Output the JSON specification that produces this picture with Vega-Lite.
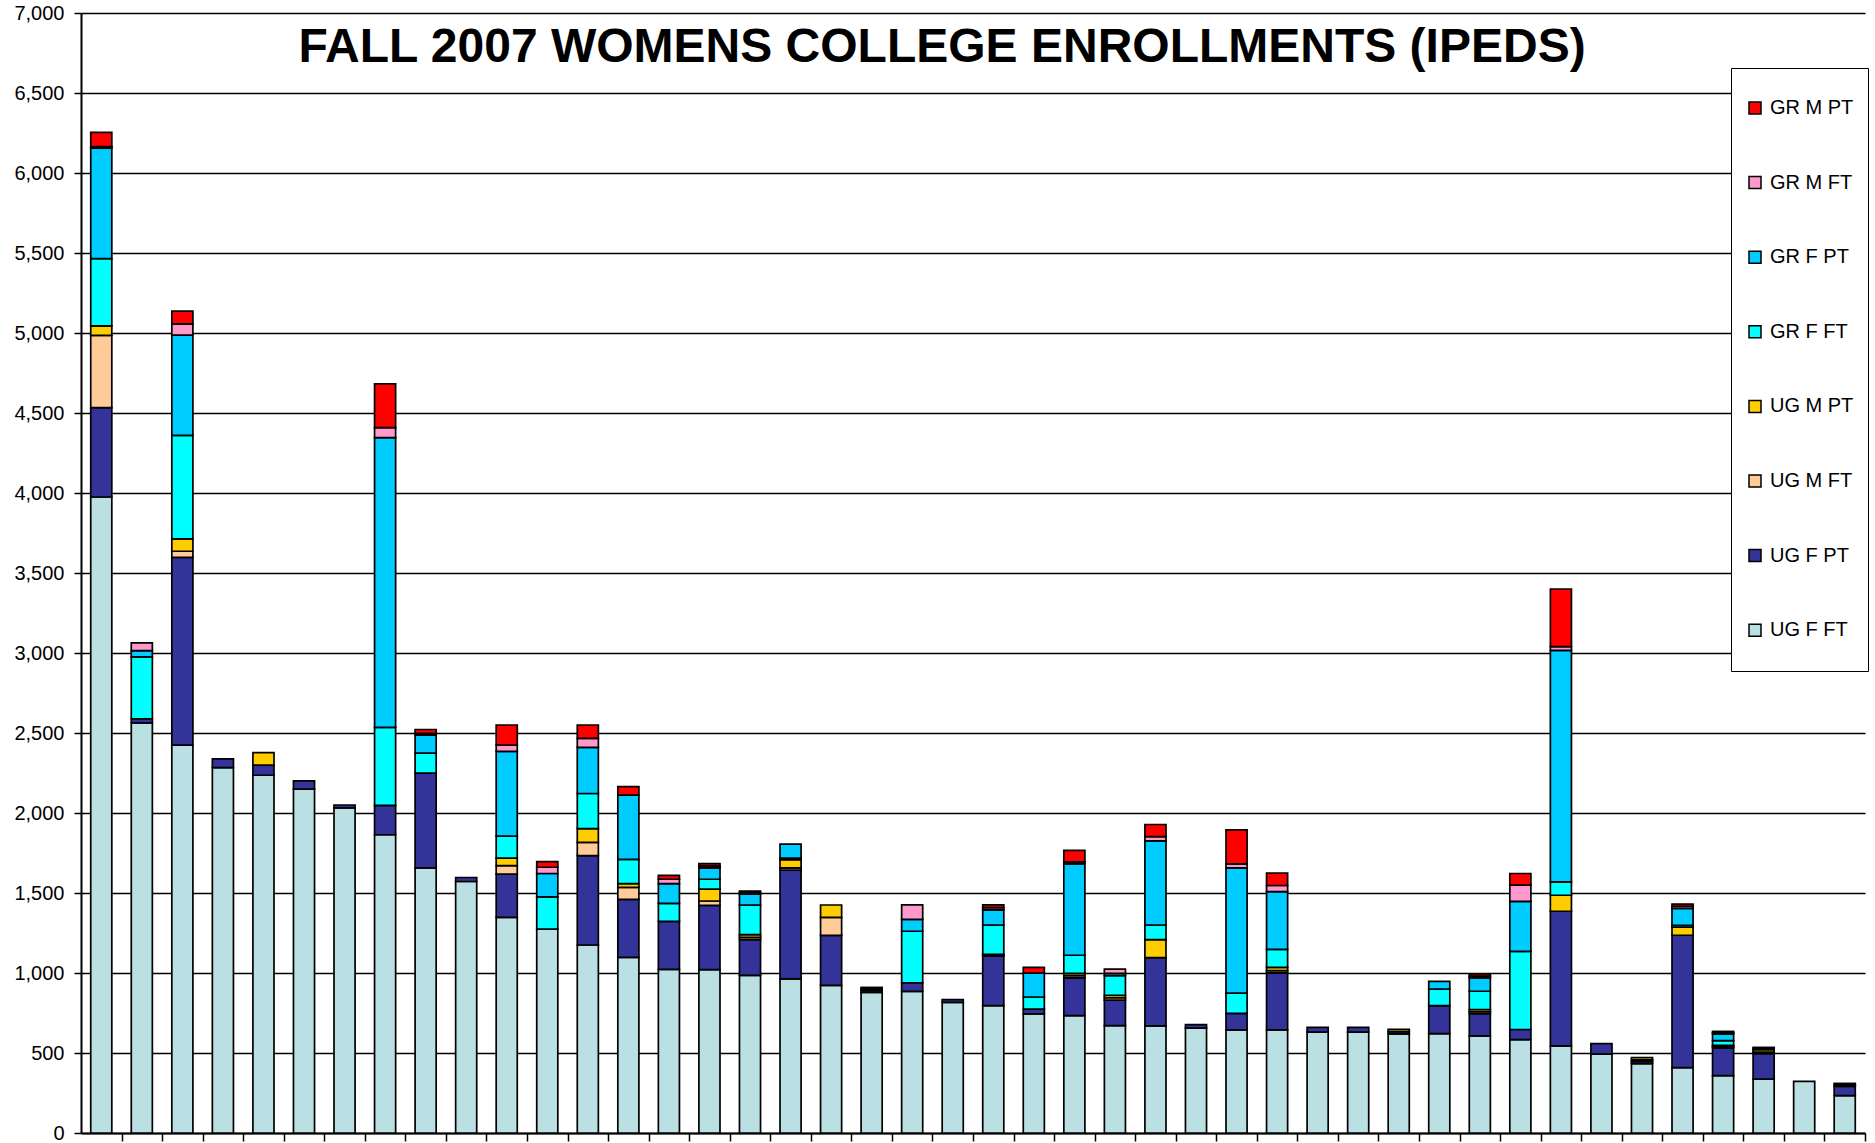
{
  "$schema": "https://vega.github.io/schema/vega-lite/v6.json",
  "width": 1784,
  "height": 1120,
  "autosize": {"type": "none"},
  "padding": {"left": 81, "top": 13, "right": 10, "bottom": 10},
  "background": "white",
  "title": {
    "text": "FALL 2007 WOMENS COLLEGE ENROLLMENTS (IPEDS)",
    "font": "Liberation Sans",
    "fontSize": 48,
    "fontWeight": "bold",
    "color": "black",
    "anchor": "middle",
    "frame": "group",
    "dx": -31,
    "offset": -107,
    "baseline": "alphabetic"
  },
  "datasets": {
    "stackOrder": [
      {"series": "UG F FT", "rank": 1},
      {"series": "UG F PT", "rank": 2},
      {"series": "UG M FT", "rank": 3},
      {"series": "UG M PT", "rank": 4},
      {"series": "GR F FT", "rank": 5},
      {"series": "GR F PT", "rank": 6},
      {"series": "GR M FT", "rank": 7},
      {"series": "GR M PT", "rank": 8}
    ]
  },
  "data": {
    "values": [
      {"college": 1, "UG F FT": 3975, "UG F PT": 559, "UG M FT": 451, "UG M PT": 60, "GR F FT": 420, "GR F PT": 690, "GR M FT": 10, "GR M PT": 89},
      {"college": 2, "UG F FT": 2563, "UG F PT": 26, "UG M FT": 0, "UG M PT": 0, "GR F FT": 387, "GR F PT": 39, "GR M FT": 48, "GR M PT": 0},
      {"college": 3, "UG F FT": 2424, "UG F PT": 1174, "UG M FT": 38, "UG M PT": 77, "GR F FT": 647, "GR F PT": 627, "GR M FT": 70, "GR M PT": 80},
      {"college": 4, "UG F FT": 2284, "UG F PT": 54, "UG M FT": 0, "UG M PT": 0, "GR F FT": 0, "GR F PT": 0, "GR M FT": 0, "GR M PT": 0},
      {"college": 5, "UG F FT": 2236, "UG F PT": 63, "UG M FT": 0, "UG M PT": 78, "GR F FT": 0, "GR F PT": 0, "GR M FT": 0, "GR M PT": 0},
      {"college": 6, "UG F FT": 2149, "UG F PT": 52, "UG M FT": 0, "UG M PT": 0, "GR F FT": 0, "GR F PT": 0, "GR M FT": 0, "GR M PT": 0},
      {"college": 7, "UG F FT": 2032, "UG F PT": 18, "UG M FT": 0, "UG M PT": 0, "GR F FT": 0, "GR F PT": 0, "GR M FT": 0, "GR M PT": 0},
      {"college": 8, "UG F FT": 1864, "UG F PT": 184, "UG M FT": 0, "UG M PT": 0, "GR F FT": 487, "GR F PT": 1811, "GR M FT": 62, "GR M PT": 274},
      {"college": 9, "UG F FT": 1657, "UG F PT": 592, "UG M FT": 0, "UG M PT": 0, "GR F FT": 125, "GR F PT": 113, "GR M FT": 11, "GR M PT": 24},
      {"college": 10, "UG F FT": 1572, "UG F PT": 25, "UG M FT": 0, "UG M PT": 0, "GR F FT": 0, "GR F PT": 0, "GR M FT": 0, "GR M PT": 0},
      {"college": 11, "UG F FT": 1348, "UG F PT": 270, "UG M FT": 53, "UG M PT": 47, "GR F FT": 137, "GR F PT": 530, "GR M FT": 40, "GR M PT": 125},
      {"college": 12, "UG F FT": 1275, "UG F PT": 0, "UG M FT": 0, "UG M PT": 0, "GR F FT": 201, "GR F PT": 146, "GR M FT": 39, "GR M PT": 35},
      {"college": 13, "UG F FT": 1175, "UG F PT": 558, "UG M FT": 83, "UG M PT": 86, "GR F FT": 220, "GR F PT": 288, "GR M FT": 57, "GR M PT": 83},
      {"college": 14, "UG F FT": 1098, "UG F PT": 362, "UG M FT": 75, "UG M PT": 24, "GR F FT": 151, "GR F PT": 402, "GR M FT": 0, "GR M PT": 53},
      {"college": 15, "UG F FT": 1023, "UG F PT": 300, "UG M FT": 0, "UG M PT": 0, "GR F FT": 112, "GR F PT": 124, "GR M FT": 27, "GR M PT": 24},
      {"college": 16, "UG F FT": 1021, "UG F PT": 402, "UG M FT": 27, "UG M PT": 74, "GR F FT": 62, "GR F PT": 71, "GR M FT": 12, "GR M PT": 15},
      {"college": 17, "UG F FT": 985, "UG F PT": 223, "UG M FT": 15, "UG M PT": 17, "GR F FT": 185, "GR F PT": 69, "GR M FT": 8, "GR M PT": 10},
      {"college": 18, "UG F FT": 963, "UG F PT": 680, "UG M FT": 14, "UG M PT": 51, "GR F FT": 10, "GR F PT": 88, "GR M FT": 0, "GR M PT": 0},
      {"college": 19, "UG F FT": 923, "UG F PT": 312, "UG M FT": 113, "UG M PT": 77, "GR F FT": 0, "GR F PT": 0, "GR M FT": 0, "GR M PT": 0},
      {"college": 20, "UG F FT": 879, "UG F PT": 12, "UG M FT": 10, "UG M PT": 9, "GR F FT": 0, "GR F PT": 0, "GR M FT": 0, "GR M PT": 0},
      {"college": 21, "UG F FT": 885, "UG F PT": 54, "UG M FT": 0, "UG M PT": 0, "GR F FT": 322, "GR F PT": 74, "GR M FT": 91, "GR M PT": 0},
      {"college": 22, "UG F FT": 816, "UG F PT": 17, "UG M FT": 0, "UG M PT": 0, "GR F FT": 0, "GR F PT": 0, "GR M FT": 0, "GR M PT": 0},
      {"college": 23, "UG F FT": 796, "UG F PT": 310, "UG M FT": 5, "UG M PT": 6, "GR F FT": 183, "GR F PT": 95, "GR M FT": 13, "GR M PT": 18},
      {"college": 24, "UG F FT": 744, "UG F PT": 31, "UG M FT": 0, "UG M PT": 0, "GR F FT": 75, "GR F PT": 150, "GR M FT": 0, "GR M PT": 35},
      {"college": 25, "UG F FT": 734, "UG F PT": 236, "UG M FT": 13, "UG M PT": 15, "GR F FT": 113, "GR F PT": 571, "GR M FT": 13, "GR M PT": 72},
      {"college": 26, "UG F FT": 671, "UG F PT": 160, "UG M FT": 15, "UG M PT": 15, "GR F FT": 122, "GR F PT": 15, "GR M FT": 26, "GR M PT": 0},
      {"college": 27, "UG F FT": 669, "UG F PT": 427, "UG M FT": 0, "UG M PT": 112, "GR F FT": 92, "GR F PT": 526, "GR M FT": 26, "GR M PT": 76},
      {"college": 28, "UG F FT": 655, "UG F PT": 22, "UG M FT": 0, "UG M PT": 0, "GR F FT": 0, "GR F PT": 0, "GR M FT": 0, "GR M PT": 0},
      {"college": 29, "UG F FT": 644, "UG F PT": 104, "UG M FT": 0, "UG M PT": 0, "GR F FT": 126, "GR F PT": 783, "GR M FT": 25, "GR M PT": 212},
      {"college": 30, "UG F FT": 645, "UG F PT": 356, "UG M FT": 14, "UG M PT": 20, "GR F FT": 113, "GR F PT": 360, "GR M FT": 39, "GR M PT": 78},
      {"college": 31, "UG F FT": 631, "UG F PT": 29, "UG M FT": 0, "UG M PT": 0, "GR F FT": 0, "GR F PT": 0, "GR M FT": 0, "GR M PT": 0},
      {"college": 32, "UG F FT": 631, "UG F PT": 29, "UG M FT": 0, "UG M PT": 0, "GR F FT": 0, "GR F PT": 0, "GR M FT": 0, "GR M PT": 0},
      {"college": 33, "UG F FT": 619, "UG F PT": 15, "UG M FT": 0, "UG M PT": 14, "GR F FT": 0, "GR F PT": 0, "GR M FT": 0, "GR M PT": 0},
      {"college": 34, "UG F FT": 621, "UG F PT": 175, "UG M FT": 0, "UG M PT": 0, "GR F FT": 104, "GR F PT": 48, "GR M FT": 0, "GR M PT": 0},
      {"college": 35, "UG F FT": 607, "UG F PT": 139, "UG M FT": 12, "UG M PT": 14, "GR F FT": 114, "GR F PT": 83, "GR M FT": 12, "GR M PT": 14},
      {"college": 36, "UG F FT": 583, "UG F PT": 64, "UG M FT": 0, "UG M PT": 0, "GR F FT": 488, "GR F PT": 313, "GR M FT": 101, "GR M PT": 73},
      {"college": 37, "UG F FT": 545, "UG F PT": 841, "UG M FT": 0, "UG M PT": 100, "GR F FT": 83, "GR F PT": 1448, "GR M FT": 23, "GR M PT": 360},
      {"college": 38, "UG F FT": 493, "UG F PT": 66, "UG M FT": 0, "UG M PT": 0, "GR F FT": 0, "GR F PT": 0, "GR M FT": 0, "GR M PT": 0},
      {"college": 39, "UG F FT": 433, "UG F PT": 14, "UG M FT": 10, "UG M PT": 14, "GR F FT": 0, "GR F PT": 0, "GR M FT": 0, "GR M PT": 0},
      {"college": 40, "UG F FT": 409, "UG F PT": 827, "UG M FT": 0, "UG M PT": 50, "GR F FT": 12, "GR F PT": 105, "GR M FT": 14, "GR M PT": 14},
      {"college": 41, "UG F FT": 358, "UG F PT": 174, "UG M FT": 8, "UG M PT": 8, "GR F FT": 29, "GR F PT": 42, "GR M FT": 8, "GR M PT": 8},
      {"college": 42, "UG F FT": 337, "UG F PT": 159, "UG M FT": 10, "UG M PT": 15, "GR F FT": 7, "GR F PT": 0, "GR M FT": 0, "GR M PT": 7},
      {"college": 43, "UG F FT": 323, "UG F PT": 0, "UG M FT": 0, "UG M PT": 0, "GR F FT": 0, "GR F PT": 0, "GR M FT": 0, "GR M PT": 0},
      {"college": 44, "UG F FT": 233, "UG F PT": 59, "UG M FT": 8, "UG M PT": 10, "GR F FT": 0, "GR F PT": 0, "GR M FT": 0, "GR M PT": 0}
    ]
  },
  "transform": [
    {"fold": ["UG F FT", "UG F PT", "UG M FT", "UG M PT", "GR F FT", "GR F PT", "GR M FT", "GR M PT"], "as": ["series", "enrollment"]},
    {"filter": "datum.enrollment > 0"},
    {"lookup": "series", "from": {"data": {"name": "stackOrder"}, "key": "series", "fields": ["rank"]}}
  ],
  "mark": {"type": "bar", "stroke": "black", "strokeWidth": 1.7},
  "encoding": {
    "x": {
      "field": "college",
      "type": "ordinal",
      "scale": {"paddingInner": 0.48, "paddingOuter": 0.24},
      "axis": {
        "title": null,
        "labels": false,
        "grid": false,
        "domainColor": "black",
        "domainWidth": 2,
        "tickColor": "black",
        "tickWidth": 1.5,
        "tickSize": 8,
        "bandPosition": 0.5,
        "tickOffset": 20.27
      }
    },
    "y": {
      "field": "enrollment",
      "type": "quantitative",
      "stack": "zero",
      "scale": {"domain": [0, 7000], "nice": false},
      "axis": {
        "title": null,
        "values": [0, 500, 1000, 1500, 2000, 2500, 3000, 3500, 4000, 4500, 5000, 5500, 6000, 6500, 7000],
        "format": ",.0f",
        "labelFont": "Liberation Sans",
        "labelFontSize": 20,
        "labelColor": "black",
        "labelPadding": 10,
        "labelBound": false,
        "grid": true,
        "gridColor": "black",
        "gridWidth": 1.5,
        "gridOpacity": 1,
        "domainColor": "black",
        "domainWidth": 2,
        "tickColor": "black",
        "tickWidth": 1.5,
        "tickSize": 7
      }
    },
    "order": {"field": "rank", "type": "quantitative", "sort": "ascending"},
    "color": {
      "field": "series",
      "type": "nominal",
      "scale": {
        "domain": ["GR M PT", "GR M FT", "GR F PT", "GR F FT", "UG M PT", "UG M FT", "UG F PT", "UG F FT"],
        "range": ["#FF0000", "#FF99CC", "#00CCFF", "#00FFFF", "#FFCC00", "#FFCC99", "#333399", "#BBE0E3"]
      },
      "legend": {
        "title": null,
        "orient": "none",
        "legendX": 1650,
        "legendY": 55,
        "padding": 14,
        "clipHeight": 52,
        "rowPadding": 22.6,
        "strokeColor": "black",
        "fillColor": "white",
        "cornerRadius": 0,
        "symbolType": "square",
        "symbolSize": 144,
        "symbolStrokeColor": "black",
        "symbolStrokeWidth": 1.5,
        "labelFont": "Liberation Sans",
        "labelFontSize": 20,
        "labelColor": "black",
        "labelOffset": 5
      }
    }
  },
  "config": {"view": {"stroke": null}}
}
